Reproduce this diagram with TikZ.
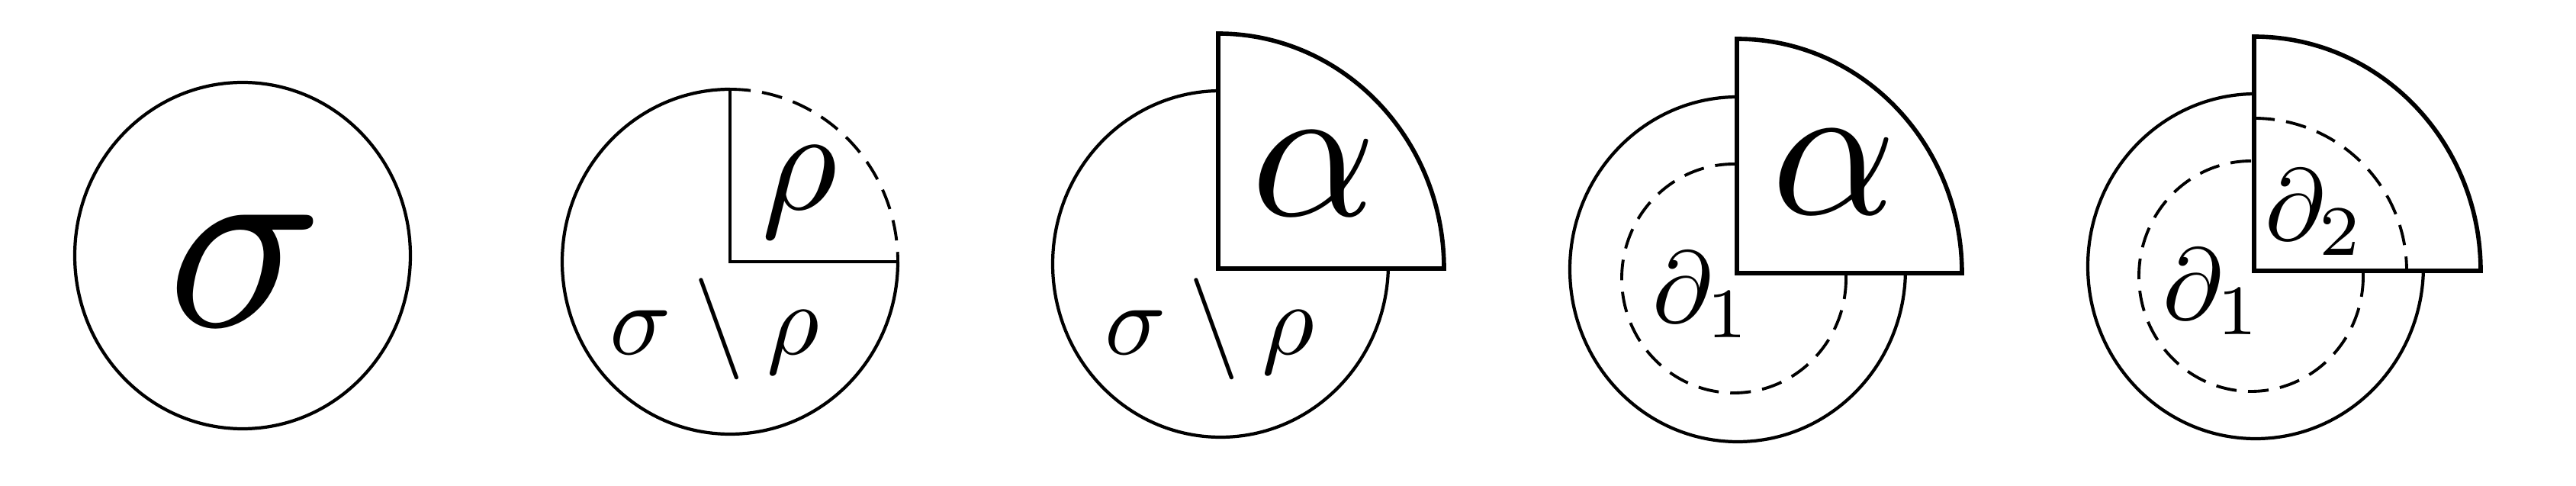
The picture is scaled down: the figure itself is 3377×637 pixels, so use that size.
\documentclass[tikz,border=0pt]{standalone}
\usepackage{amsmath}
\begin{document}
\begin{tikzpicture}[x=0.01cm,y=-0.01cm,
  outline/.style={line width=1.2pt},
  dashline/.style={line width=1.1pt, dash pattern=on 7.7pt off 4.3pt},
  quarter/.style={line width=1.6pt, fill=white, line join=miter},
  corner/.style={line width=1.3pt},
  lbl/.style={inner sep=0pt, scale=3.78},
  biglbl/.style={inner sep=0pt, scale=7.25}]
\useasboundingbox (0,0) rectangle (3377,637);

% Figure 1
\coordinate (c1) at (318,335);
\draw[outline] (c1) ellipse [x radius=220, y radius=227];
\node[inner sep=0pt, scale=9.6] (s1) at (322,355) {$\sigma$};

% Figure 2
\coordinate (c2) at (957,343);
\coordinate (t2) at (957,117);
\coordinate (r2) at (1177,343);
\draw[outline] (r2) arc[start angle=0, end angle=270, x radius=220, y radius=226];
\draw[dashline] (t2) arc[start angle=270, end angle=360, x radius=220, y radius=226];
\draw[corner] (t2) -- (c2) -- (r2);
\node[lbl] (m2) at (937,431) {$\sigma\setminus\rho$};
\node[inner sep=0pt, scale=5.46] (p2) at (1048,252) {$\rho$};

% Figure 3
\coordinate (c3) at (1600,346);
\draw[outline] (c3) ellipse [x radius=220, y radius=227];
\coordinate (q3) at (1597,352);
\draw[quarter] (q3) -- ++(0,-308) arc[start angle=270, end angle=360, x radius=296, y radius=308] -- cycle;
\node[biglbl] (a3) at (1723,228) {$\alpha$};
\node[lbl] (m3) at (1586,431) {$\sigma\setminus\rho$};

% Figure 4
\coordinate (c4) at (2278,353);
\draw[outline] (c4) ellipse [x radius=220, y radius=226];
\coordinate (d4) at (2273,365);
\draw[dashline] (d4) ellipse [x radius=147, y radius=150];
\coordinate (q4) at (2277,358);
\draw[quarter] (q4) -- ++(0,-307) arc[start angle=270, end angle=360, x radius=295, y radius=307] -- cycle;
\node[biglbl] (a4) at (2404,226) {$\alpha$};
\node[lbl] (b4) at (2232,386) {$\partial_1$};

% Figure 5
\coordinate (c5) at (2957,349);
\draw[outline] (c5) ellipse [x radius=220, y radius=226];
\coordinate (d5) at (2951,362);
\draw[dashline] (d5) ellipse [x radius=147, y radius=151];
\coordinate (q5) at (2955,355);
\draw[quarter] (q5) -- ++(0,-307) arc[start angle=270, end angle=360, x radius=297, y radius=307] -- cycle;
\draw[dashline] (q5) ++(0,-200) arc[start angle=270, end angle=360, x radius=200, y radius=200];
\node[lbl] (b5) at (2901,382) {$\partial_1$};
\node[lbl] (e5) at (3035,278) {$\partial_2$};
\end{tikzpicture}
\end{document}
